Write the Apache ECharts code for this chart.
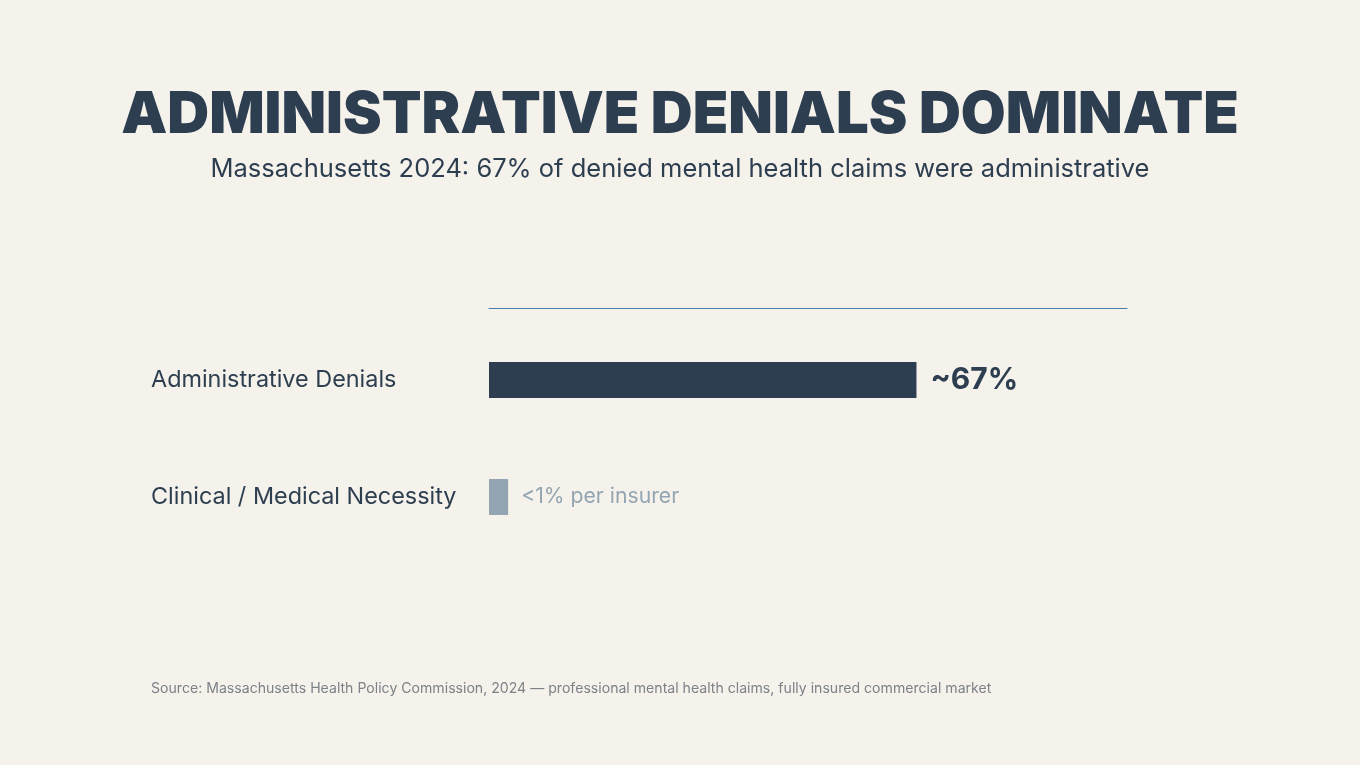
<!DOCTYPE html>
<html>
<head>
<meta charset="utf-8">
<script src="https://cdn.jsdelivr.net/npm/echarts@6/dist/echarts.min.js"></script>
<style>
html,body{margin:0;padding:0;background:#f5f2eb;}
#c{width:1360px;height:765px;}
</style>
</head>
<body>
<div id="c"></div>
<script>
const categories = ['Administrative Denials', 'Clinical / Medical Necessity'];
const values = [67, 3];
const valueLabels = ['~67%', '<1% per insurer'];
const barColors = ['#2c3e50', '#93a5b2'];

const chart = echarts.init(document.getElementById('c'));
chart.setOption({
  backgroundColor: '#f5f2eb',
  textStyle: { fontFamily: 'Inter' },
  title: [
    {
      text: 'ADMINISTRATIVE DENIALS DOMINATE',
      left: 'center', top: 82,
      textStyle: { fontFamily: 'Inter', fontWeight: 900, fontSize: 58, color: '#2c3e50' }
    },
    {
      text: 'Massachusetts 2024: 67% of denied mental health claims were administrative',
      left: 'center', top: 151,
      textStyle: { fontFamily: 'Inter', fontWeight: 400, fontSize: 25.5, color: '#2c3e50' }
    },
    {
      text: 'Source: Massachusetts Health Policy Commission, 2024 — professional mental health claims, fully insured commercial market',
      left: 146, top: 677,
      textStyle: { fontFamily: 'Inter', fontWeight: 400, fontSize: 14.1, color: '#7d8288' }
    }
  ],
  grid: { left: 489, right: 233, top: 321.5, bottom: 209.5, containLabel: false },
  xAxis: {
    type: 'value', min: 0, max: 100, position: 'top', offset: 13.5,
    axisLine: { show: true, lineStyle: { color: '#4a7fa8', width: 1 } },
    axisTick: { show: false }, axisLabel: { show: false }, splitLine: { show: false }
  },
  yAxis: {
    type: 'category', data: categories, inverse: true,
    axisLine: { show: false }, axisTick: { show: false },
    axisLabel: { align: 'left', margin: 338, fontFamily: 'Inter', fontSize: 23.4, color: '#2c3e50' }
  },
  series: [{
    type: 'bar', barWidth: 36,
    data: values.map((v, i) => ({
      value: v,
      itemStyle: { color: barColors[i] },
      label: {
        show: true, position: 'right', distance: i === 0 ? 14 : 13,
        formatter: valueLabels[i],
        fontFamily: 'Inter',
        fontSize: i === 0 ? 30 : 21.2,
        fontWeight: i === 0 ? 700 : 400,
        color: i === 0 ? '#2c3e50' : '#93a5b2'
      }
    }))
  }]
});
</script>
</body>
</html>
